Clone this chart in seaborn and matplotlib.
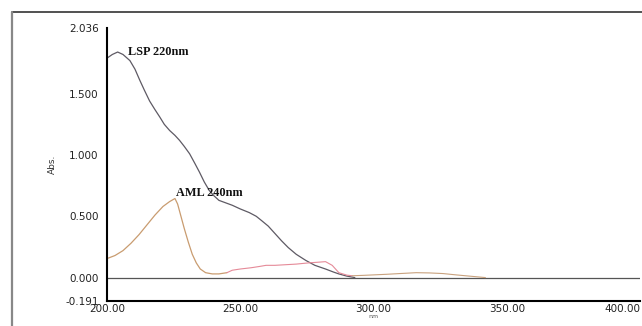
import numpy as np
import pandas as pd
import seaborn as sns
import matplotlib.pyplot as plt
from matplotlib.lines import Line2D

# LSP spectrum (dark curve)
lsp_wl = [200, 202, 204, 206, 208.6, 210.5, 212.3, 214, 216, 218, 219.8, 221.5,
          223.5, 225.5, 227.2, 229, 231, 233, 234.7, 236.5, 238.4, 240, 242, 244.5,
          247, 250, 253.4, 256, 258, 260.5, 263, 265.5, 268, 271, 274.6, 278, 282,
          285, 287, 290, 293]
lsp_abs = [1.79, 1.82, 1.84, 1.82, 1.77, 1.70, 1.61, 1.53, 1.44, 1.37, 1.31, 1.25,
           1.20, 1.16, 1.12, 1.07, 1.01, 0.93, 0.86, 0.78, 0.71, 0.67, 0.63, 0.61,
           0.59, 0.56, 0.53, 0.50, 0.465, 0.42, 0.36, 0.30, 0.245, 0.19, 0.14, 0.10,
           0.07, 0.045, 0.03, 0.012, 0.0]

# AML spectrum, tan part
aml_wl = [200, 203, 206, 209, 212, 215, 218, 221, 223.5, 225.5, 226.5, 227.5,
          229, 230.5, 232, 233.5, 235, 237, 239.5, 242, 245]
aml_abs = [0.155, 0.18, 0.22, 0.28, 0.35, 0.43, 0.51, 0.58, 0.62, 0.645, 0.60,
           0.52, 0.40, 0.29, 0.19, 0.12, 0.07, 0.04, 0.03, 0.03, 0.04]

# AML, pink middle part
aml_mid_wl = [245, 247, 250, 254, 257, 259.7, 263, 267, 271, 275.7, 279, 282,
              284.5, 287, 290, 292]
aml_mid_abs = [0.04, 0.06, 0.07, 0.08, 0.09, 0.10, 0.10, 0.105, 0.11, 0.12, 0.125,
               0.13, 0.10, 0.04, 0.02, 0.015]

# AML, tail
aml_tail_wl = [292, 296, 300, 305, 310, 316, 321, 326, 331, 336, 340, 342]
aml_tail_abs = [0.015, 0.018, 0.022, 0.027, 0.033, 0.04, 0.038, 0.033, 0.022,
                0.012, 0.004, 0.0]

y_ticks = [-0.191, 0.0, 0.5, 1.0, 1.5, 2.036]
x_ticks = [200, 250, 300, 350, 400]

sns.set_style("white")
fig = plt.figure(figsize=(6.42, 3.26), dpi=100)
ax = fig.add_axes([107 / 642, 25 / 326, 533 / 642, 273 / 326])

ax.axhline(0, color="#555555", lw=0.9, zorder=1)
sns.lineplot(x=lsp_wl, y=lsp_abs, color="#5e5a64", lw=0.9, ax=ax, sort=False)
sns.lineplot(x=aml_wl, y=aml_abs, color="#c99c70", lw=0.9, ax=ax, sort=False)
sns.lineplot(x=aml_mid_wl, y=aml_mid_abs, color="#e58a98", lw=0.8, ax=ax, sort=False)
sns.lineplot(x=aml_tail_wl, y=aml_tail_abs, color="#c9a27e", lw=0.8, ax=ax, sort=False)

ax.text(207.8, 1.84, "LSP 220nm", fontsize=8.8, fontweight="bold",
        family="Liberation Serif", ha="left", va="center", color="#111111")
ax.text(226, 0.69, "AML 240nm", fontsize=8.8, fontweight="bold",
        family="Liberation Serif", ha="left", va="center", color="#111111")

ax.set_xlim(200, 400)
ax.set_ylim(-0.191, 2.036)
ax.set_xticks(x_ticks)
xlabels = ax.set_xticklabels([f"{v:.2f}" for v in x_ticks])
xlabels[-1].set_horizontalalignment("right")
ax.set_yticks(y_ticks)
ax.set_yticklabels([f"{v:.3f}" for v in y_ticks])
ax.tick_params(direction="in", length=5, width=1.2, labelsize=7.5,
               labelcolor="#222222", color="black")
ax.tick_params(axis="y", pad=6)
ax.tick_params(axis="x", pad=2)
sns.despine(ax=ax)
for s in ["left", "bottom"]:
    ax.spines[s].set_linewidth(1.5)
    ax.spines[s].set_color("black")

ax.set_xlabel("nm", fontsize=4.5, color="#555555", labelpad=0)
ax.set_ylabel("Abs.", fontsize=6.5, color="#333333", labelpad=6)

# outer frame (top and left only)
fig.add_artist(Line2D([12 / 642, 1.0], [1 - 12 / 326, 1 - 12 / 326],
                      transform=fig.transFigure, color="#333333", lw=1.2))
fig.add_artist(Line2D([12 / 642, 12 / 642], [0, 1 - 12 / 326],
                      transform=fig.transFigure, color="#888888", lw=1.6))

fig.savefig("out.png", dpi=100)
